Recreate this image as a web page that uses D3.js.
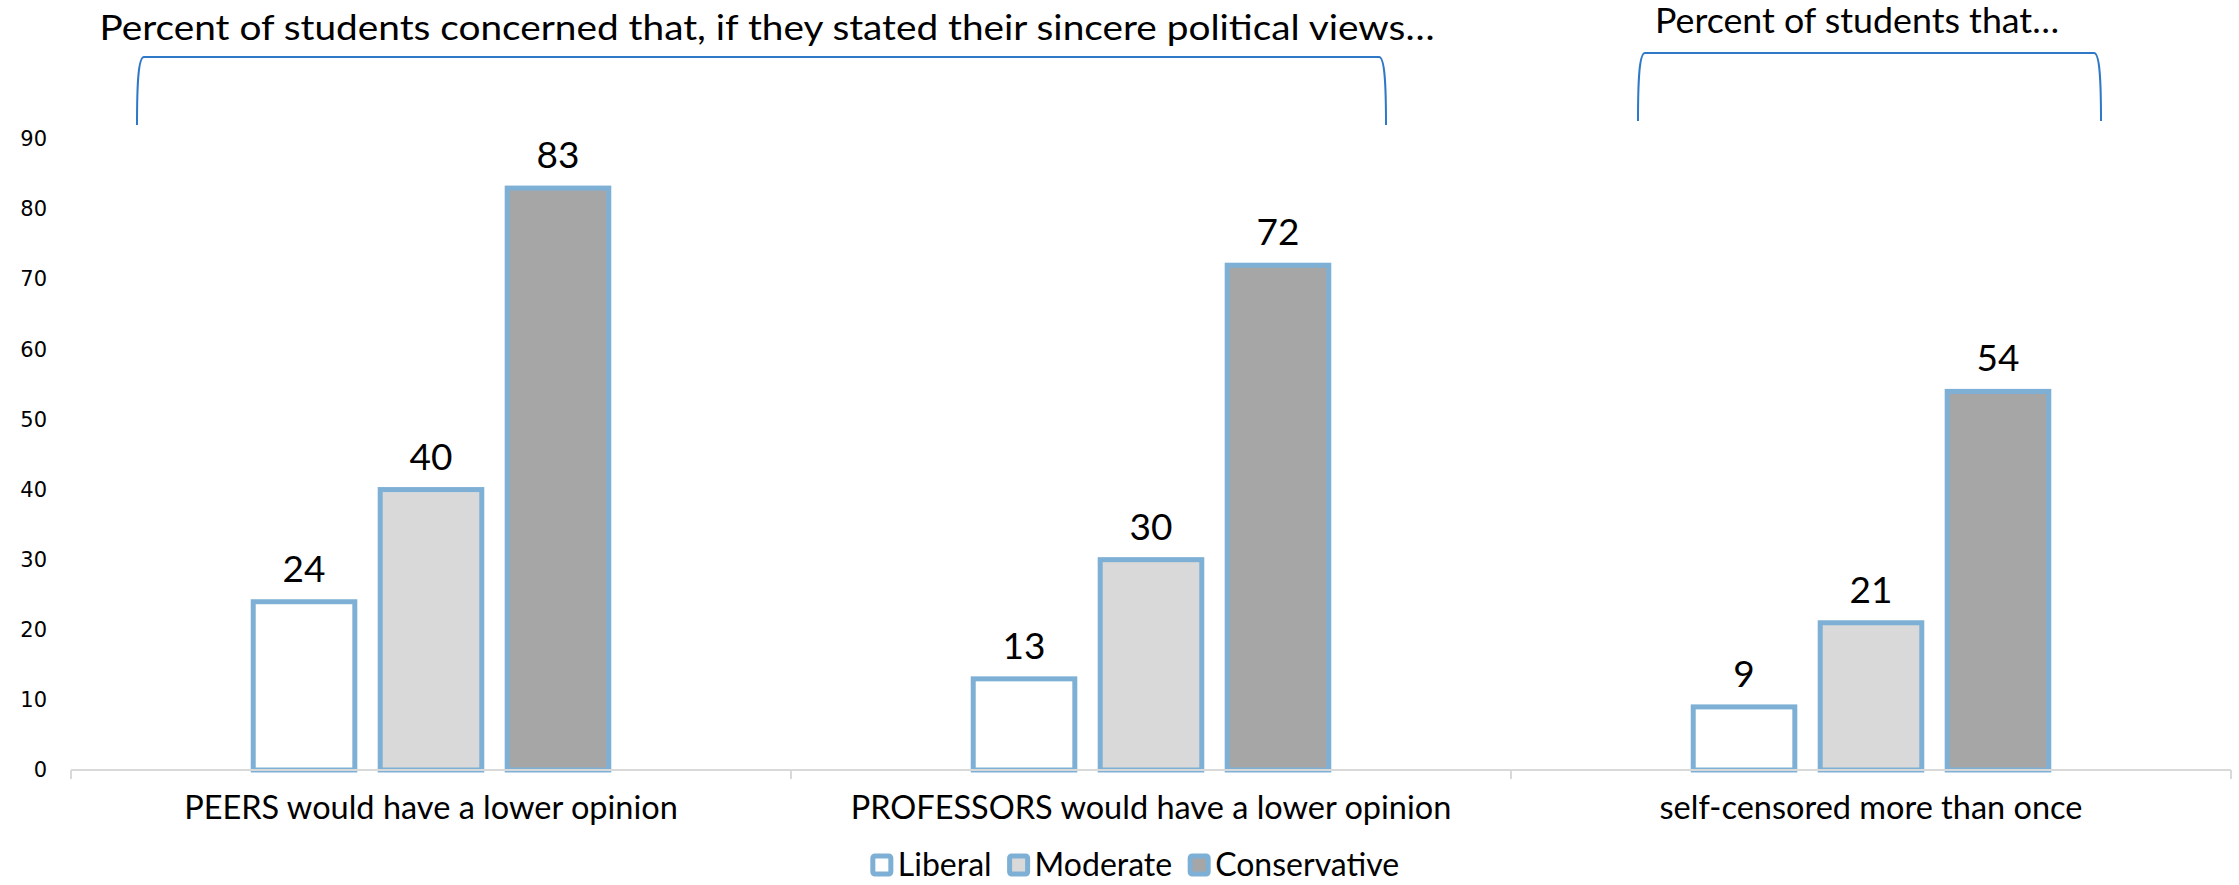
<!DOCTYPE html>
<html>
<head>
<meta charset="utf-8">
<script src="https://cdn.jsdelivr.net/npm/d3@7"></script>
<style>
  html, body { margin: 0; padding: 0; background: #fff; }
  svg { display: block; }
</style>
</head>
<body>
<div id="chart"></div>
<script>
/* ---- data ------------------------------------------------------- */
const categories = [
  'PEERS would have a lower opinion',
  'PROFESSORS would have a lower opinion',
  'self-censored more than once'
];
const seriesNames  = ['Liberal', 'Moderate', 'Conservative'];
const liberal      = [24, 13, 9];
const moderate     = [40, 30, 21];
const conservative = [83, 72, 54];
const yTicks       = [0, 10, 20, 30, 40, 50, 60, 70, 80, 90];
const titles       = [
  'Percent of students concerned that, if they stated their sincere political views…',
  'Percent of students that…'
];

/* ---- layout ----------------------------------------------------- */
const W = 2239, H = 885;
const plot = { left: 71, right: 2231, top: 139, bottom: 770 };
const FONT = 'Lato, "Open Sans", sans-serif';
const fills  = ['#ffffff', '#d9d9d9', '#a6a6a6'];
const STROKE = '#7eb0d5';
const BRACE  = '#2f78c8';

const svg = d3.select('#chart').append('svg')
  .attr('width', W).attr('height', H);

/* ---- scales ----------------------------------------------------- */
const x0 = d3.scaleBand().domain(categories)
  .range([plot.left, plot.right]).paddingInner(0).paddingOuter(0);
const x1 = d3.scaleBand().domain(seriesNames)
  .range([0, x0.bandwidth()]).paddingInner(0.2).paddingOuter(1.435);
const y = d3.scaleLinear().domain([0, 90]).range([plot.bottom, plot.top]);
const color = d3.scaleOrdinal().domain(seriesNames).range(fills);

const values = [liberal, moderate, conservative];
const rows = categories.map((c, i) => ({
  cat: c,
  vals: seriesNames.map((s, j) => ({ s, v: values[j][i] }))
}));

/* ---- y axis (labels only) -------------------------------------- */
const yAxis = svg.append('g')
  .attr('transform', `translate(${plot.left},0)`)
  .call(d3.axisLeft(y).tickValues(yTicks).tickSize(0).tickPadding(24));
yAxis.select('.domain').remove();
yAxis.selectAll('text')
  .style('font-family', '"DejaVu Sans", sans-serif')
  .style('font-size', '21px')
  .style('fill', '#000');

/* ---- bars ------------------------------------------------------- */
const groups = svg.append('g').selectAll('g')
  .data(rows).join('g')
  .attr('transform', d => `translate(${x0(d.cat)},0)`);

groups.selectAll('rect')
  .data(d => d.vals).join('rect')
  .attr('x', d => x1(d.s))
  .attr('y', d => y(d.v))
  .attr('width', x1.bandwidth())
  .attr('height', d => y(0) - y(d.v))
  .attr('fill', d => color(d.s))
  .attr('stroke', STROKE)
  .attr('stroke-width', 5);

groups.selectAll('text.val')
  .data(d => d.vals).join('text')
  .attr('class', 'val')
  .attr('x', d => x1(d.s) + x1.bandwidth() / 2)
  .attr('y', d => y(d.v) - 20)
  .attr('text-anchor', 'middle')
  .style('font-family', FONT)
  .style('font-size', '37px')
  .style('fill', '#000')
  .text(d => d.v);

/* ---- x axis ----------------------------------------------------- */
const xAxis = svg.append('g')
  .attr('transform', `translate(0,${plot.bottom})`);
xAxis.append('line')
  .attr('x1', plot.left).attr('x2', plot.right)
  .attr('stroke', '#d9d9d9').attr('stroke-width', 2);
const bounds = categories.map(c => x0(c)).concat([plot.right]);
xAxis.selectAll('line.tick')
  .data(bounds).join('line')
  .attr('class', 'tick')
  .attr('x1', d => d).attr('x2', d => d)
  .attr('y1', 0).attr('y2', 9)
  .attr('stroke', '#d9d9d9').attr('stroke-width', 2);
xAxis.selectAll('text')
  .data(categories).join('text')
  .attr('x', d => x0(d) + x0.bandwidth() / 2)
  .attr('y', 49)
  .attr('text-anchor', 'middle')
  .style('font-family', FONT)
  .style('font-size', '32.5px')
  .style('fill', '#000')
  .text(d => d);

/* ---- brackets + titles ----------------------------------------- */
function brace(xa, xb, top, bot) {
  const p = d3.path();
  p.moveTo(xa, bot);
  p.bezierCurveTo(xa, top + 30, xa + 1, top, xa + 7, top);
  p.lineTo(xb - 7, top);
  p.bezierCurveTo(xb - 1, top, xb, top + 30, xb, bot);
  return p.toString();
}
const braces = [
  { xa: 137, xb: 1386, top: 57, bot: 125, tx: 767,  ty: 40, w: 1335 },
  { xa: 1638, xb: 2101, top: 53, bot: 121, tx: 1857, ty: 33, w: 404 }
];
svg.append('g').selectAll('path')
  .data(braces).join('path')
  .attr('d', d => brace(d.xa, d.xb, d.top, d.bot))
  .attr('fill', 'none')
  .attr('stroke', BRACE)
  .attr('stroke-width', 2);
svg.append('g').selectAll('text')
  .data(braces).join('text')
  .attr('x', d => d.tx).attr('y', d => d.ty)
  .attr('text-anchor', 'middle')
  .attr('textLength', d => d.w)
  .attr('lengthAdjust', 'spacingAndGlyphs')
  .style('font-family', FONT)
  .style('font-size', '34px')
  .style('fill', '#000')
  .text((d, i) => titles[i]);

/* ---- legend ----------------------------------------------------- */
const legend = svg.append('g');
const items = legend.selectAll('g')
  .data(seriesNames).join('g');
items.append('rect')
  .attr('width', 18).attr('height', 18)
  .attr('y', -20)
  .attr('rx', 2)
  .attr('fill', d => color(d))
  .attr('stroke', STROKE).attr('stroke-width', 5);
items.append('text')
  .attr('x', 25)
  .style('font-family', FONT)
  .style('font-size', '32px')
  .style('fill', '#000')
  .text(d => d);
let lx = 0;
items.each(function () {
  d3.select(this).attr('transform', `translate(${lx},0)`);
  lx += this.getBBox().width + 18;
});
const lw = lx - 18;
legend.attr('transform', `translate(${1134 - lw / 2 + 2},876)`);
</script>
</body>
</html>
